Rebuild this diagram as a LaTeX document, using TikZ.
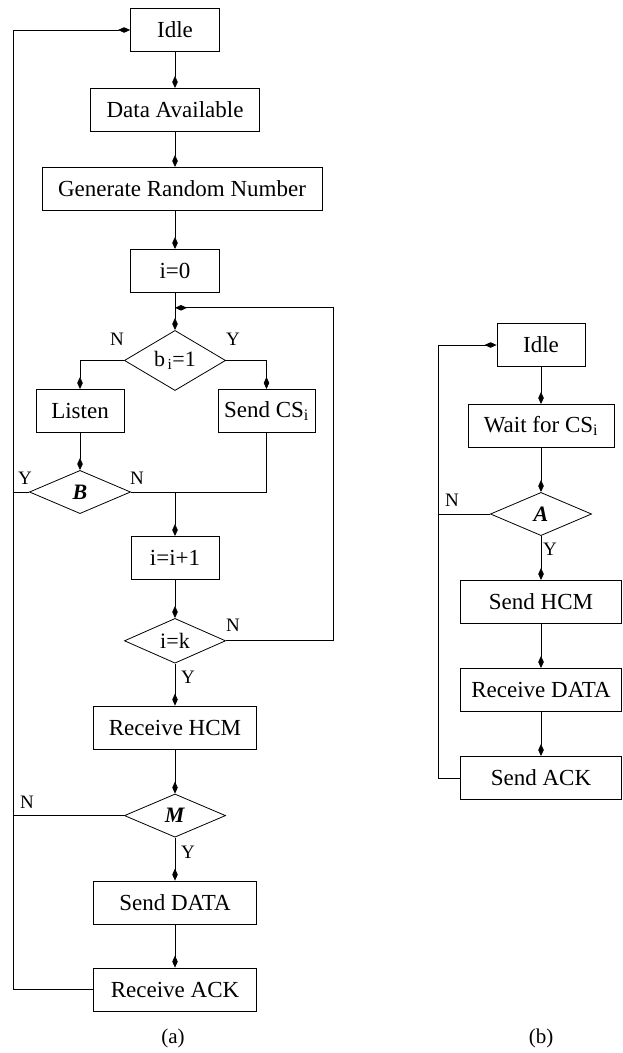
\documentclass[tikz,border=0pt]{standalone}
\usepackage{fontspec}
\setmainfont{Liberation Serif}
\usetikzlibrary{arrows.meta,positioning,shapes.geometric,calc}
\newcommand{\flowfont}{\fontsize{23}{26}\selectfont}
\newcommand{\decfont}{\fontsize{22}{25}\selectfont}
\newcommand{\lblfont}{\fontsize{19}{22}\selectfont}
\tikzset{
  procbox/.style={
    rectangle, draw, line width=0.8pt, minimum height=43.2pt, inner sep=2pt, font=\flowfont
  },
  decbox/.style={
    diamond, draw, line width=0.8pt, minimum width=101.2pt, minimum height=43.2pt,
    inner sep=0pt, font=\decfont
  },
  farrow/.style={draw, line width=0.8pt, -{Kite[length=12pt,width=5.5pt,inset=6pt]}},
  fline/.style={draw, line width=0.8pt},
  flabel/.style={font=\lblfont, inner sep=1pt}
}

\begin{document}
\begin{tikzpicture}[x=1pt,y=-1pt]
    \useasboundingbox (0,0) rectangle (623,1053);
    % Nodos (a)
    \node[procbox, minimum width=89pt]                    (idleA)  at (175,30) {Idle};
    \node[procbox, minimum width=169pt, below=36pt of idleA]  (avail)  {Data Available};
    \node[procbox, minimum width=280pt, below=35pt of avail, xshift=7pt] (gen) {Generate Random Number};
    \node[procbox, minimum width=89pt, below=38pt of gen, xshift=-7pt]  (izero) {i=0};
    \node[decbox, below=37pt of izero]                        (testb)  {b\textsubscript{\,i}=1};
    \node[procbox, minimum width=88pt]                    (listen) at (80,411) {Listen};
    \node[procbox, minimum width=97pt]                    (sendcs) at (266.5,411) {Send CS\textsubscript{i}};
    \node[decbox, below=37pt of listen]                       (decB)   {\textbf{\textit{B}}};
    \node[procbox, minimum width=88pt]                    (incr)   at (175,558) {i=i+1};
    \node[decbox, below=38pt of incr]                         (testk)  {i=k};
    \node[procbox, minimum width=163pt, below=42pt of testk]  (rxhcm)  {Receive HCM};
    \node[decbox, below=44pt of rxhcm]                        (decM)   {\textbf{\textit{M}}};
    \node[procbox, minimum width=163pt, below=43pt of decM]   (txdata) {Send DATA};
    \node[procbox, minimum width=163pt, below=43pt of txdata] (rxack)  {Receive ACK};
    % Nodos (b)
    \node[procbox, minimum width=88pt]                    (idleB)  at (541,345) {Idle};
    \node[procbox, minimum width=146pt, below=37pt of idleB]  (waitcs) {Wait for CS\textsubscript{i}};
    \node[decbox, below=44pt of waitcs]                       (decA)   {\textbf{\textit{A}}};
    \node[procbox, minimum width=161pt, below=44pt of decA]   (txhcm)  {Send HCM};
    \node[procbox, minimum width=161pt, below=44pt of txhcm]  (rxdata) {Receive DATA};
    \node[procbox, minimum width=161pt, below=44pt of rxdata] (txack)  {Send ACK};
    % Rieles
    \coordinate (railA) at (13,0);
    \coordinate (railB) at (438,0);
    \coordinate (loopk) at ($(izero.south)!0.4!(testb.north)$);
    \coordinate (joinB) at (incr.north |- decB.east);
    % Flechas (a)
    \draw[farrow] (idleA) -- (avail);
    \draw[farrow] (avail) -- (avail |- gen.north);
    \draw[farrow] (izero |- gen.south) -- (izero);
    \draw[farrow] (izero) -- (testb);
    \draw[farrow] (testb.west) -| (listen.north);
    \draw[farrow] (testb.east) -| (sendcs.north);
    \draw[farrow] (listen) -- (decB);
    \draw[fline] (sendcs.south) |- (decB.east);
    \draw[farrow] (joinB) -- (incr);
    \draw[farrow] (incr) -- (testk);
    \draw[farrow] (testk) -- (rxhcm);
    \draw[farrow] (rxhcm) -- (decM);
    \draw[farrow] (decM) -- (txdata);
    \draw[farrow] (txdata) -- (rxack);
    % Vuelta i=k
    \draw[farrow] (testk.east) -- ++(107,0) |- (loopk);
    % Vuelta a Idle
    \draw[farrow] (rxack.west) -- (rxack.west -| railA) |- (idleA.west);
    \draw[fline] (decB.west) -- (decB.west -| railA);
    \draw[fline] (decM.west) -- (decM.west -| railA);
    % Flechas (b)
    \draw[farrow] (idleB) -- (waitcs);
    \draw[farrow] (waitcs) -- (decA);
    \draw[farrow] (decA) -- (txhcm);
    \draw[farrow] (txhcm) -- (rxdata);
    \draw[farrow] (rxdata) -- (txack);
    \draw[farrow] (txack.west) -- (txack.west -| railB) |- (idleB.west);
    \draw[fline] (decA.west) -- (decA.west -| railB);
    % Etiquetas
    \node[flabel] (nb)  at (117,339) {N};
    \node[flabel] (yb)  at (233,339) {Y};
    \node[flabel] (yB)  at (25,478)  {Y};
    \node[flabel] (nB)  at (137,478) {N};
    \node[flabel] (nk)  at (233,625) {N};
    \node[flabel] (yk)  at (188,677) {Y};
    \node[flabel] (nM)  at (27,802)  {N};
    \node[flabel] (yM)  at (188,852) {Y};
    \node[flabel] (nA)  at (452,500) {N};
    \node[flabel] (yA)  at (550,549) {Y};
    \node[flabel, font=\fontsize{21}{24}\selectfont] (capA) at (173,1038) {(a)};
    \node[flabel, font=\fontsize{21}{24}\selectfont] (capB) at (541,1038) {(b)};
  \end{tikzpicture}
\end{document}
